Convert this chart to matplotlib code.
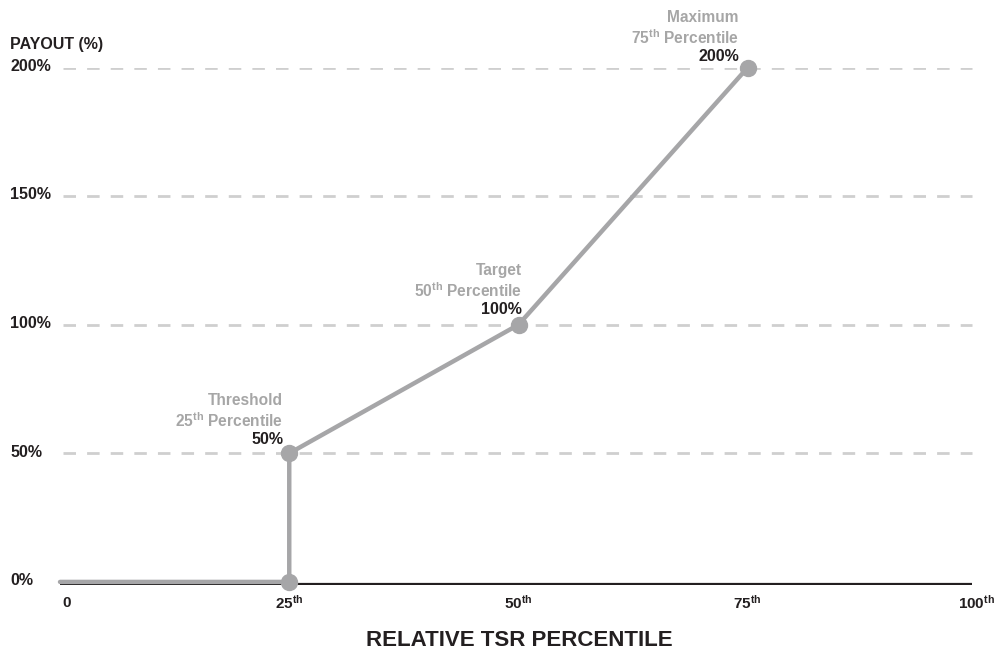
import matplotlib
matplotlib.use("Agg")
import matplotlib.pyplot as plt
from matplotlib.transforms import blended_transform_factory

plt.rcParams["font.family"] = ["Liberation Sans", "DejaVu Sans"]
plt.rcParams["font.weight"] = "bold"
plt.rcParams["mathtext.fontset"] = "custom"
plt.rcParams["mathtext.rm"] = "Liberation Sans:bold"
plt.rcParams["mathtext.it"] = "Liberation Sans:bold"
plt.rcParams["mathtext.bf"] = "Liberation Sans:bold"

# Payout curve
percentile = [0, 25, 25, 50, 75]
payout = [0, 0, 50, 100, 200]
marker_x = [25, 25, 50, 75]
marker_y = [0, 50, 100, 200]

x_ticks = [0, 25, 50, 75, 100]
x_tick_labels = ["0", r"25$^{\mathrm{th}}$", r"50$^{\mathrm{th}}$",
                 r"75$^{\mathrm{th}}$", r"100$^{\mathrm{th}}$"]
y_ticks = [0, 50, 100, 150, 200]
y_tick_labels = ["0%", "50%", "100%", "150%", "200%"]

point_titles = ["Threshold", "Target", "Maximum"]
point_percentiles = [r"25$^{\mathrm{th}}$ Percentile", r"50$^{\mathrm{th}}$ Percentile",
                     r"75$^{\mathrm{th}}$ Percentile"]
point_x = [25, 50, 75]
point_y = [50, 100, 200]
point_values = ["50%", "100%", "200%"]

LINE = "#a6a6a8"
LABEL_GRAY = "#a6a6a6"
DARK = "#231f20"
W, H = 996, 653

fig = plt.figure(figsize=(W / 100, H / 100), dpi=100)
ax = fig.add_axes([60 / W, (H - 585) / H, (977 - 60) / W, (585 - 67.5) / H])
ax.set_xlim(0, 100)
ax.set_ylim(-1.2, 200)
for s in ax.spines.values():
    s.set_visible(False)
ax.set_xticks([])
ax.set_yticks([])

# dashed guide lines
for yv in y_ticks[1:]:
    ax.plot([0.3, 99.5], [yv, yv], color="#cfcfcf", lw=2, dashes=(4.5, 4), zorder=1,
            solid_capstyle="butt", dash_capstyle="butt")

# axis baseline
ax.plot([0, 99.5], [-0.9, -0.9], color=DARK, lw=1.6, zorder=2, solid_capstyle="butt")

ax.plot(percentile, payout, color=LINE, lw=3.2, zorder=3, solid_capstyle="round",
        solid_joinstyle="round", clip_on=False)
ax.plot(marker_x, marker_y, "o", color=LINE, ms=11.5, zorder=4, clip_on=False)

# point annotations (offsets in pixels from each marker)
offsets = [(-6, 0), (3, 1), (-9, -3)]
for xv, yv, t, p, v, (dx, dy) in zip(point_x, point_y, point_titles,
                                     point_percentiles, point_values, offsets):
    ax.annotate(v, (xv, yv), xytext=(dx, 14 + dy), textcoords="offset pixels",
                ha="right", va="center", fontsize=11.5, color=DARK, fontweight="bold")
    ax.annotate(p, (xv, yv), xytext=(dx, 33 + dy), textcoords="offset pixels",
                ha="right", va="center", fontsize=11.2, color=LABEL_GRAY, fontweight="bold")
    ax.annotate(t, (xv, yv), xytext=(dx, 53 + dy), textcoords="offset pixels",
                ha="right", va="center", fontsize=11.2, color=LABEL_GRAY, fontweight="bold")

# y tick labels, left aligned at the figure edge
trans = blended_transform_factory(fig.transFigure, ax.transData)
for yv, lab in zip(y_ticks, y_tick_labels):
    ax.text(10 / W, yv + 0.5, lab, transform=trans, ha="left", va="center",
            fontsize=11.5, color=DARK, fontweight="bold")
fig.text(10 / W, 1 - 45 / H, "PAYOUT (%)", ha="left", va="center",
         fontsize=11.5, color=DARK, fontweight="bold")

# x tick labels
xtrans = blended_transform_factory(ax.transData, fig.transFigure)
for xv, lab in zip(x_ticks, x_tick_labels):
    ha = "left" if xv == 0 else "center"
    xpos = xv + 0.3 if xv == 0 else xv
    ax.text(xpos, 1 - 603 / H, lab, transform=xtrans, ha=ha, va="center",
            fontsize=11, color=DARK, fontweight="bold")

fig.text(519.5 / W, 6.5 / H, "RELATIVE TSR PERCENTILE", ha="center", va="baseline",
         fontsize=16, color=DARK, fontweight="bold")

fig.savefig("out.png", dpi=100)
